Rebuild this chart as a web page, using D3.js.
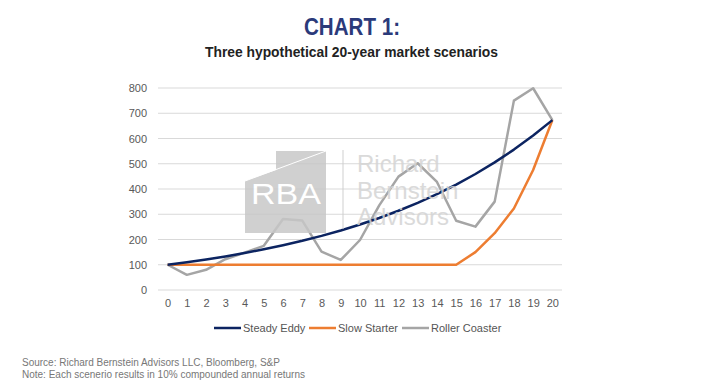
<!DOCTYPE html>
<html>
<head>
<meta charset="utf-8">
<script src="https://cdn.jsdelivr.net/npm/d3@7"></script>
<style>
body { margin: 0; background: #fff; }
svg { display: block; }
.tick text { font-family: "Liberation Sans Narrow", "Liberation Sans", Arial, sans-serif; font-size: 11px; fill: #595959; }
</style>
</head>
<body>
<script>
var years = [0, 1, 2, 3, 4, 5, 6, 7, 8, 9, 10, 11, 12, 13, 14, 15, 16, 17, 18, 19, 20];
var steadyEddy = [100, 110, 121, 133.1, 146.4, 161.1, 177.2, 194.9, 214.4, 235.8, 259.4, 285.3, 313.8, 345.2, 379.7, 417.7, 459.5, 505.4, 556, 611.6, 672.7];
var slowStarter = [100, 100, 100, 100, 100, 100, 100, 100, 100, 100, 100, 100, 100, 100, 100, 100, 150, 225, 323, 475, 673];
var rollerCoaster = [100, 60, 80, 122, 148, 175, 281, 275, 152, 119, 198, 335, 449, 502, 428, 274, 251, 350, 750, 799, 673];
var yTicks = [0, 100, 200, 300, 400, 500, 600, 700, 800];
var seriesNames = ["Steady Eddy", "Slow Starter", "Roller Coaster"];
var seriesColors = ["#0c2461", "#ed7d31", "#a5a5a5"];

var W = 703, H = 389,
pad = {top: 88, left: 158, right: 141, bottom: 99},
w = W - pad.left - pad.right,
h = H - pad.top - pad.bottom;

var svg = d3.select("body").append("svg")
	.attr("width", W).attr("height", H);

svg.append("text")
	.attr("x", 352).attr("y", 35)
	.attr("text-anchor", "middle")
	.attr("textLength", 96).attr("lengthAdjust", "spacingAndGlyphs")
	.attr("font-family", "'Liberation Sans Narrow', 'Liberation Sans', Arial, sans-serif")
	.attr("font-weight", "bold").attr("font-size", "24px")
	.attr("fill", "#2b3a7a")
	.text("CHART 1:");

svg.append("text")
	.attr("x", 351.5).attr("y", 57)
	.attr("text-anchor", "middle")
	.attr("textLength", 293).attr("lengthAdjust", "spacingAndGlyphs")
	.attr("font-family", "'Liberation Sans Narrow', 'Liberation Sans', Arial, sans-serif")
	.attr("font-weight", "bold").attr("font-size", "15px")
	.attr("fill", "#222")
	.text("Three hypothetical 20-year market scenarios");

var xSc = d3.scalePoint().domain(years).range([0, w]).padding(0.5),
ySc = d3.scaleLinear().domain([0, 800]).range([h, 0]);

var chart = svg.append("g")
	.attr("transform", "translate(" + pad.left + "," + pad.top + ")");

// gridlines
chart.append("g").selectAll("line")
	.data(yTicks).enter().append("line")
	.attr("x1", 0).attr("x2", w)
	.attr("y1", function(d) { return ySc(d); })
	.attr("y2", function(d) { return ySc(d); })
	.attr("stroke", "#d9d9d9").attr("stroke-width", 1);

// watermark (RBA logo)
var wm = svg.append("g").attr("opacity", 0.85);
wm.append("polygon")
	.attr("points", "245,181 276,170 276,151 326,151 326,233 245,233")
	.attr("fill", "#c8c8c8");
wm.append("line")
	.attr("x1", 245).attr("y1", 181).attr("x2", 326).attr("y2", 151)
	.attr("stroke", "#fff").attr("stroke-width", 1);
wm.append("text")
	.attr("x", 286).attr("y", 204)
	.attr("text-anchor", "middle")
	.attr("textLength", 70).attr("lengthAdjust", "spacingAndGlyphs")
	.attr("font-family", "'Liberation Sans Narrow', 'Liberation Sans', sans-serif")
	.attr("font-size", "30px").attr("fill", "#fff")
	.text("RBA");
wm.append("line")
	.attr("x1", 343).attr("y1", 150).attr("x2", 343).attr("y2", 229)
	.attr("stroke", "#d0d0d0").attr("stroke-width", 1.2);
["Richard", "Bernstein", "Advisors"].forEach(function(t, i) {
	wm.append("text")
		.attr("x", 357).attr("y", 172 + i * 26.5)
		.attr("font-family", "'Liberation Sans Narrow', 'Liberation Sans', sans-serif")
		.attr("font-size", "24px").attr("fill", "#d4d4d4")
		.text(t);
});

var xAxis = d3.axisBottom(xSc).tickSize(0).tickPadding(9),
yAxis = d3.axisLeft(ySc).tickValues(yTicks).tickSize(0).tickPadding(11);

var gx = chart.append("g")
	.attr("transform", "translate(0," + h + ")")
	.call(xAxis);
gx.select(".domain").remove();

var gy = chart.append("g").call(yAxis);
gy.select(".domain").remove();

var line = d3.line()
	.x(function(d, i) { return xSc(years[i]); })
	.y(function(d) { return ySc(d); });

var allSeries = [steadyEddy, slowStarter, rollerCoaster];
// roller coaster goes underneath, like in the original
[2, 1, 0].forEach(function(k) {
	chart.append("path")
		.datum(allSeries[k])
		.attr("d", line)
		.attr("fill", "none")
		.attr("stroke", seriesColors[k])
		.attr("stroke-width", 2.5)
		.attr("stroke-linejoin", "round");
});

// legend
var legX = [214, 309, 402];
var legend = svg.append("g")
	.selectAll("g").data(seriesNames).enter().append("g")
	.attr("transform", function(d, i) { return "translate(" + legX[i] + ",328)"; });
legend.append("line")
	.attr("x1", 0).attr("x2", 27)
	.attr("stroke", function(d, i) { return seriesColors[i]; })
	.attr("stroke-width", 2.5);
legend.append("text")
	.attr("x", 29).attr("y", 4)
	.attr("font-family", "'Liberation Sans Narrow', 'Liberation Sans', Arial, sans-serif")
	.attr("font-size", "11px").attr("fill", "#555")
	.text(function(d) { return d; });

// footnotes
svg.append("text")
	.attr("x", 22).attr("y", 366)
	.attr("font-family", "'Liberation Sans', Arial, sans-serif")
	.attr("font-size", "10px").attr("fill", "#777")
	.text("Source: Richard Bernstein Advisors LLC, Bloomberg, S&P");
svg.append("text")
	.attr("x", 22).attr("y", 378)
	.attr("font-family", "'Liberation Sans', Arial, sans-serif")
	.attr("font-size", "10px").attr("fill", "#777")
	.text("Note: Each scenerio results in 10% compounded annual returns");
</script>
</body>
</html>
